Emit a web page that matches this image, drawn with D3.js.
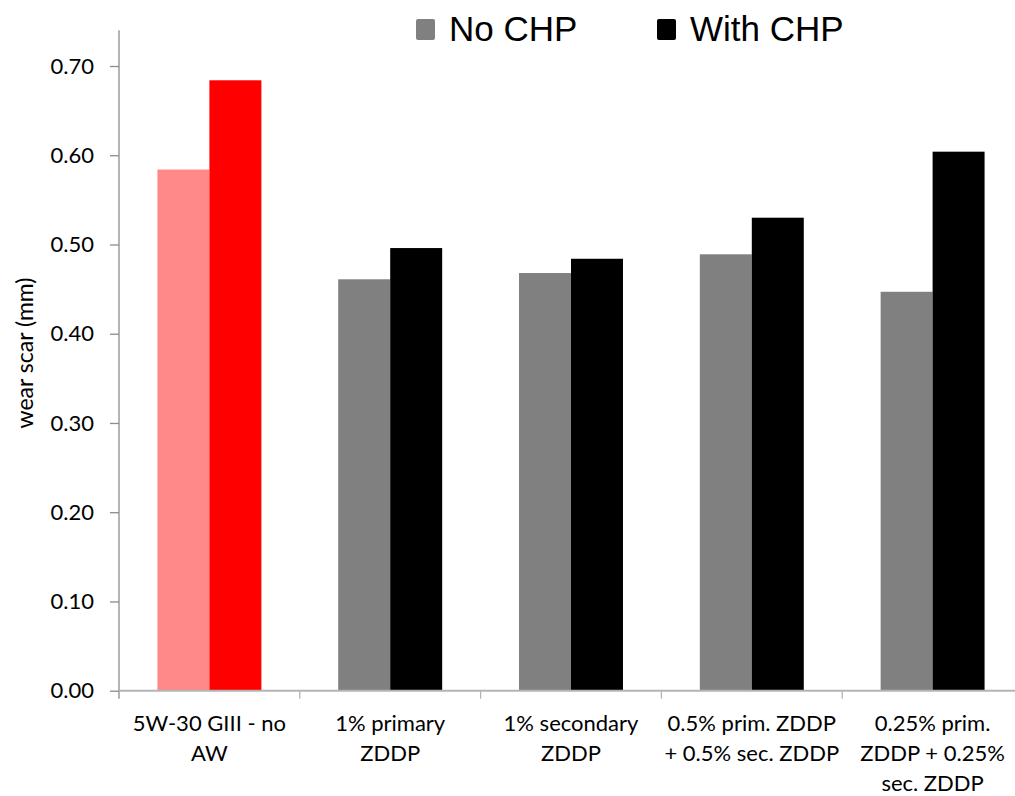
<!DOCTYPE html>
<html>
<head>
<meta charset="utf-8">
<script src="https://cdn.jsdelivr.net/npm/d3@7"></script>
<style>
  html, body { margin: 0; padding: 0; background: #fff; }
  svg { display: block; }
</style>
</head>
<body>
<svg id="chart" width="1015" height="796"></svg>
<script>
// Wear scar results, with and without CHP
const categories = [
  ["5W-30 GIII - no", "AW"],
  ["1% primary", "ZDDP"],
  ["1% secondary", "ZDDP"],
  ["0.5% prim. ZDDP", "+ 0.5% sec. ZDDP"],
  ["0.25% prim.", "ZDDP + 0.25%", "sec. ZDDP"]
];
const seriesNames = ["No CHP", "With CHP"];
const noChp   = [0.584, 0.461, 0.468, 0.489, 0.447];
const withChp = [0.684, 0.496, 0.484, 0.530, 0.604];
const yTicks  = [0, 0.1, 0.2, 0.3, 0.4, 0.5, 0.6, 0.7];

// Base oil (first group) is shown in reds, additive blends in grey/black
const baseColors  = ["#ff8989", "#ff0000"];
const blendColors = ["#808080", "#000000"];
const legendColors = ["#808080", "#000000"];

const svg = d3.select("#chart");
const plotLeft = 119, plotBottom = 690.7, plotTop = 30.3;
const labelFont = "Lato, 'Open Sans', sans-serif";

const y = d3.scaleLinear().domain([0, 0.74]).range([plotBottom, plotTop]);
const x0 = d3.scaleBand().domain(d3.range(categories.length)).range([plotLeft, 1023]).padding(0);
const groupW = x0.bandwidth() * 0.575;
const x1 = d3.scaleBand().domain([0, 1]).range([0, groupW]).padding(0);

// Bars
const rows = categories.map((c, i) => ({ i, vals: [noChp[i], withChp[i]] }));
const g = svg.append("g");
rows.forEach(r => {
  const gx = x0(r.i) + (x0.bandwidth() - groupW) / 2;
  const cols = r.i === 0 ? baseColors : blendColors;
  g.selectAll(null).data(r.vals).enter().append("rect")
    .attr("x", (d, k) => gx + x1(k))
    .attr("width", x1.bandwidth())
    .attr("y", d => y(d))
    .attr("height", d => plotBottom - y(d))
    .attr("fill", (d, k) => cols[k]);
});

// Y axis
const yAxis = d3.axisLeft(y).tickValues(yTicks).tickFormat(d3.format(".2f")).tickSize(9).tickPadding(16);
const ya = svg.append("g").attr("transform", `translate(${plotLeft},0)`).call(yAxis);
ya.select(".domain").remove();
ya.selectAll(".tick line").attr("stroke", "#8c8c8c").attr("stroke-width", 1.3);
ya.selectAll(".tick text").attr("font-family", labelFont).attr("font-size", 22).attr("fill", "#000");
svg.append("line").attr("x1", plotLeft).attr("x2", plotLeft).attr("y1", plotTop).attr("y2", plotBottom + 8)
  .attr("stroke", "#8c8c8c").attr("stroke-width", 1.3);

// X axis line and category separators
svg.append("line").attr("x1", plotLeft).attr("x2", 1015).attr("y1", plotBottom).attr("y2", plotBottom)
  .attr("stroke", "#b4b4b4").attr("stroke-width", 2);
svg.selectAll(".sep").data(d3.range(1, categories.length)).enter().append("line")
  .attr("x1", d => x0(d)).attr("x2", d => x0(d))
  .attr("y1", plotBottom).attr("y2", plotBottom + 8)
  .attr("stroke", "#b4b4b4").attr("stroke-width", 1.3);

// Category labels
const lab = svg.selectAll(".cat").data(categories).enter().append("text")
  .attr("text-anchor", "middle")
  .attr("font-family", labelFont).attr("font-size", 22).attr("fill", "#000");
lab.each(function(lines, i) {
  const t = d3.select(this);
  lines.forEach((s, k) => {
    t.append("tspan").attr("x", x0(i) + x0.bandwidth() / 2).attr("y", 731 + k * 30).text(s);
  });
});

// Y axis title
svg.append("text")
  .attr("transform", `translate(33,353) rotate(-90)`)
  .attr("text-anchor", "middle")
  .attr("font-family", labelFont).attr("font-size", 23).attr("fill", "#000")
  .text("wear scar (mm)");

// Legend
const legX = [416, 657];
seriesNames.forEach((name, k) => {
  svg.append("rect").attr("x", legX[k]).attr("y", 19).attr("width", 19).attr("height", 21)
    .attr("rx", 2).attr("fill", legendColors[k]);
  svg.append("text").attr("x", legX[k] + 33).attr("y", 41)
    .attr("font-family", "'Liberation Sans', Arial, sans-serif").attr("font-size", 35).attr("fill", "#000")
    .text(name);
});
</script>
</body>
</html>
